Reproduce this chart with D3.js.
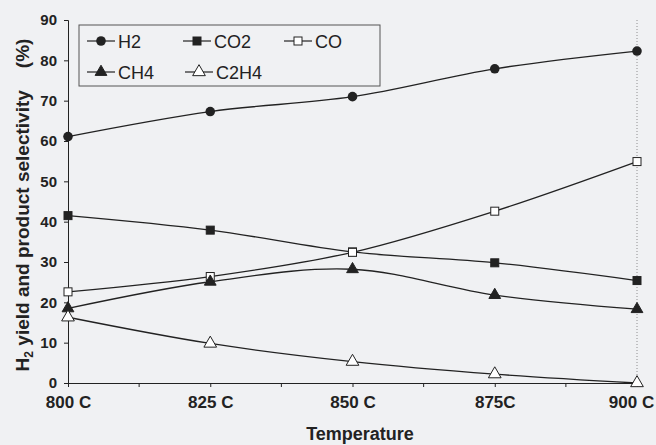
<!DOCTYPE html>
<meta charset="utf-8">
<style>
body { margin: 0; background: #f0f1f3; }
svg { font-family: Arial, "Liberation Sans", sans-serif; }
.tick-label { font-weight: bold; fill: #222; }
.axis-title { font-size: 19px; font-weight: bold; fill: #222; }
.legend-text { font-size: 18px; fill: #222; }
</style>
<svg width="656" height="445"></svg>
<script src="https://d3js.org/d3.v7.min.js"></script>
<script>

// data
var temps = [800, 825, 850, 875, 900];
var tempLabels = ["800 C", "825 C", "850 C", "875C", "900 C"];
var yTicks = [0, 10, 20, 30, 40, 50, 60, 70, 80, 90];

var h2   = [61.1, 67.3, 71.0, 77.9, 82.3];
var co2  = [41.5, 37.9, 32.5, 29.8, 25.4];
var co   = [22.6, 26.4, 32.4, 42.6, 54.9];
var ch4  = [18.5, 25.1, 28.2, 21.8, 18.3];
var c2h4 = [16.3, 9.8, 5.3, 2.2, 0.0];

var seriesNames = ["H2", "CO2", "CO", "CH4", "C2H4"];
var seriesValues = [h2, co2, co, ch4, c2h4];
var seriesMarkers = ["circle", "square", "openSquare", "triangle", "openTriangle"];

var svg = d3.select("svg");
var ink = "#222";

var x = d3.scaleLinear().domain([800, 900]).range([68, 637]);
var y = d3.scaleLinear().domain([0, 90]).range([383, 20]);

// faint dotted right edge of plot area
svg.append("line")
    .attr("x1", x(900)).attr("x2", x(900))
    .attr("y1", y(90)).attr("y2", y(0))
    .attr("stroke", "#777").attr("stroke-width", 0.8)
    .attr("stroke-dasharray", "1,2");

// y axis
var yAxis = svg.append("g").attr("transform", `translate(${x(800)},0)`)
    .call(d3.axisLeft(y).tickValues(yTicks).tickSize(4).tickPadding(7));
yAxis.select(".domain").attr("stroke", ink);
yAxis.selectAll(".tick line").attr("stroke", ink);
yAxis.selectAll("text").attr("class", "tick-label").attr("font-family", null)
    .attr("font-size", null).style("font-size", "15px");

// x axis
var minor = d3.range(812.5, 900, 25);
var xAxis = svg.append("g").attr("transform", `translate(0,${y(0)})`)
    .call(d3.axisBottom(x).tickValues(temps).tickSize(4).tickPadding(9)
      .tickFormat((d, i) => tempLabels[i]));
xAxis.select(".domain").attr("stroke", ink);
xAxis.selectAll(".tick line").attr("stroke", ink);
xAxis.selectAll("text").attr("class", "tick-label").attr("font-family", null)
    .attr("font-size", null).style("font-size", "17px")
    .attr("dx", (d, i) => i === temps.length - 1 ? -6 : 0);
svg.append("g").selectAll("line")
  .data(minor)
  .join("line")
    .attr("x1", d => x(d)).attr("x2", d => x(d))
    .attr("y1", y(0)).attr("y2", y(0) + 4)
    .attr("stroke", ink);

// axis titles
svg.append("text")
    .attr("class", "axis-title")
    .attr("text-anchor", "middle")
    .style("font-size", "18px")
    .attr("x", 360).attr("y", 440)
    .text("Temperature");

var yt = svg.append("text")
    .attr("class", "axis-title")
    .attr("text-anchor", "middle")
    .attr("transform", "translate(29,205) rotate(-90)");
yt.append("tspan").text("H");
yt.append("tspan").attr("font-size", "12px").attr("dy", 4).text("2");
yt.append("tspan").attr("dy", -4).text(" yield and product selectivity");
yt.append("tspan").attr("dx", 22).text("(%)");

// markers
function drawMarker(g, type, cx, cy) {
  if (type === "circle") {
    g.append("circle").attr("cx", cx).attr("cy", cy).attr("r", 4.8).attr("fill", ink);
  } else if (type === "square" || type === "openSquare") {
    var s = 8;
    g.append("rect").attr("x", cx - s / 2).attr("y", cy - s / 2)
      .attr("width", s).attr("height", s)
      .attr("fill", type === "square" ? ink : "#fff")
      .attr("stroke", ink).attr("stroke-width", 1);
  } else {
    var tri = d3.symbol().type(d3.symbolTriangle).size(type === "triangle" ? 60 : 70);
    g.append("path").attr("d", tri())
      .attr("transform", `translate(${cx},${cy})`)
      .attr("fill", type === "triangle" ? ink : "#fff")
      .attr("stroke", ink).attr("stroke-width", 1);
  }
}

var line = d3.line()
    .x((d, i) => x(temps[i]))
    .y(d => y(d))
    .curve(d3.curveCatmullRom.alpha(0.5));

seriesValues.forEach(function (vals, k) {
  var g = svg.append("g").attr("class", "series");
  g.append("path")
      .attr("d", line(vals))
      .attr("fill", "none")
      .attr("stroke", ink)
      .attr("stroke-width", 1.3);
  vals.forEach(function (v, i) {
    drawMarker(g, seriesMarkers[k], x(temps[i]), y(v));
  });
});

// legend
var legend = svg.append("g").attr("id", "legend");
legend.append("rect")
    .attr("x", 79).attr("y", 25).attr("width", 301).attr("height", 61)
    .attr("fill", "#f0f1f3").attr("stroke", "#555").attr("stroke-width", 1);

var legendPos = [[101, 41], [197, 41], [298, 41], [101, 72], [199, 72]];
seriesNames.forEach(function (name, k) {
  var cx = legendPos[k][0], cy = legendPos[k][1];
  legend.append("line")
      .attr("x1", cx - 14).attr("x2", cx + 14)
      .attr("y1", cy).attr("y2", cy)
      .attr("stroke", ink).attr("stroke-width", 1.2);
  drawMarker(legend, seriesMarkers[k], cx, cy);
  legend.append("text")
      .attr("class", "legend-text")
      .attr("x", cx + 17).attr("y", cy + 6.5)
      .text(name);
});

</script>
